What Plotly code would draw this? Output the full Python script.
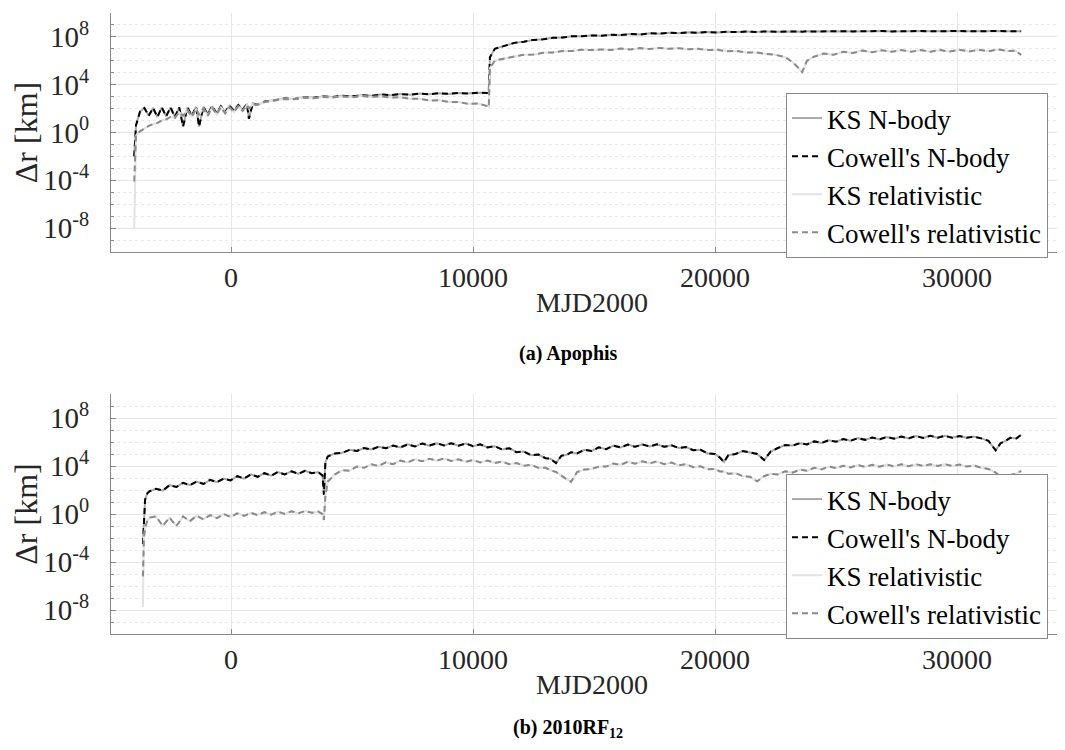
import numpy as np
import plotly.graph_objects as go

# ---------------- (a) Apophis ----------------
apophis_mjd = [
    -4000, -3960, -3925,
    -3760, -3580, -3400, -3220, -3040, -2860, -2680, -2500, -2320, -2140,
    -1980, -1800, -1620, -1440, -1320, -1140, -960, -780, -600, -420,
    -240, -60, 120, 300, 480, 660, 740, 900, 1080,
    1400, 1800, 2200, 2600, 3000, 3400, 3800, 4200, 4600, 5000,
    5400, 5800, 6200, 6600, 7000, 7400, 7800, 8200, 8600, 9000,
    9400, 9800, 10200, 10600,
    10650, 10700, 10900, 11300, 11700, 12100, 12500, 12900, 13300, 13700,
    14100, 14500,
    14900, 15300, 15700, 16100, 16500, 16900, 17300, 17700, 18100, 18500,
    18900, 19300, 19700, 20100, 20500, 20900, 21300, 21700, 22100, 22500,
    22900, 23200, 23400, 23600, 23800, 24100, 24500, 24900, 25300, 25700,
    26100, 26500, 26900, 27300, 27700, 28100, 28500, 28900, 29300, 29700,
    30100, 30500, 30900, 31300, 31700, 32100, 32400, 32650,
]
# log10 of delta r [km]
apophis_nbody_log = [
    -2.0, -0.5, 0.6,
    1.75, 2.05, 1.4, 2.05, 1.3, 2.1, 1.35, 2.1, 1.3, 2.1,
    0.5, 2.1, 1.4, 2.15, 0.5, 2.15, 1.5, 2.2, 1.6, 2.2,
    1.7, 2.25, 1.8, 2.3, 1.9, 2.4, 1.15, 2.45, 2.3,
    2.6, 2.7, 2.85, 2.8, 2.95, 2.9, 3.02, 2.97, 3.08, 3.02,
    3.12, 3.07, 3.18, 3.12, 3.22, 3.16, 3.26, 3.2, 3.29, 3.23,
    3.31, 3.26, 3.33, 3.3,
    3.3, 6.3, 7.0, 7.25, 7.5, 7.6, 7.75, 7.8, 7.92, 7.95,
    8.06, 8.05,
    8.12, 8.1, 8.18, 8.15, 8.24, 8.2, 8.3, 8.27, 8.35, 8.31,
    8.38, 8.34, 8.41, 8.37, 8.43, 8.4, 8.45, 8.42, 8.46, 8.43,
    8.47, 8.45, 8.46, 8.44, 8.47, 8.45, 8.48, 8.45, 8.48, 8.46,
    8.48, 8.46, 8.49, 8.46, 8.49, 8.46, 8.49, 8.47, 8.49, 8.47,
    8.49, 8.47, 8.49, 8.47, 8.49, 8.47, 8.48, 8.47,
]
apophis_ks_rel_start = -8.0
apophis_cowell_rel_start = -4.1
apophis_rel_log = [  # from the 2nd epoch on
    -1.5, -0.25,
    0.1, 0.35, 0.55, 0.7, 0.8, 1.0, 1.1, 1.3, 1.2, 1.7,
    1.4, 1.9, 1.3, 2.0, 1.5, 2.0, 1.4, 2.1, 1.5, 2.1,
    1.6, 2.1, 1.7, 2.2, 1.8, 2.3, 2.0, 2.35, 2.3,
    2.55, 2.65, 2.8, 2.78, 2.92, 2.86, 2.98, 2.92, 3.02, 2.95,
    3.05, 2.98, 3.02, 2.92, 2.95, 2.82, 2.82, 2.68, 2.7, 2.55,
    2.55, 2.4, 2.42, 2.2,
    2.1, 5.4, 6.0, 6.2, 6.35, 6.5, 6.52, 6.68, 6.7, 6.82,
    6.82, 6.92,
    6.9, 6.95, 6.9, 7.02, 6.95, 7.06, 6.98, 7.08, 7.0, 7.06,
    6.96, 7.0, 6.9, 6.92, 6.8, 6.82, 6.7, 6.7, 6.58, 6.5,
    6.3, 5.9, 5.5, 5.05, 6.0, 6.35, 6.6, 6.5, 6.75, 6.65,
    6.85, 6.72, 6.88, 6.75, 6.9, 6.76, 6.9, 6.76, 6.9, 6.77,
    6.92, 6.78, 6.93, 6.8, 6.95, 6.82, 6.85, 6.5,
]

# ---------------- (b) 2010RF12 ----------------
rf12_mjd = [
    -3640, -3600, -3550, -3450, -3360,
    -3100, -2820, -2540, -2260, -1980, -1700, -1420, -1140, -860, -580,
    -300, -20, 260, 540, 820, 1100, 1380, 1660, 1940, 2220,
    2500, 2780, 3060, 3340, 3600, 3780, 3840, 3900, 4000,
    4300, 4600, 4900, 5200, 5500, 5800, 6100, 6400, 6700, 7000,
    7300, 7600, 7900, 8200, 8500, 8800, 9100, 9400, 9700, 10000,
    10300, 10600, 10900, 11200, 11500, 11800, 12100, 12400, 12700, 13000,
    13200, 13430, 13650, 13900, 14050, 14300, 14600, 14900, 15200, 15500,
    15800, 16100, 16400, 16700, 17000, 17300, 17600, 17900, 18200, 18500,
    18800, 19100, 19400, 19700, 20000, 20200, 20370, 20550, 20850, 21150,
    21450, 21740, 22030, 22300, 22600, 22900, 23200, 23500, 23800, 24100,
    24400, 24700, 25000, 25300, 25600, 25900, 26200, 26500, 26800, 27100,
    27400, 27700, 28000, 28300, 28600, 28900, 29200, 29500, 29800, 30100,
    30400, 30700, 31000, 31300, 31600, 31800, 31970, 32200, 32450, 32650,
]
rf12_nbody_log = [
    -2.5, 0.0, 1.2, 1.75, 1.9,
    2.1, 1.95, 2.4, 2.25, 2.6, 2.4, 2.7, 2.5, 2.85, 2.65,
    2.95, 2.8, 3.15, 2.95, 3.3, 3.1, 3.4, 3.2, 3.5, 3.3,
    3.55, 3.35, 3.6, 3.4, 3.5, 3.2, 1.6, 4.3, 4.8,
    5.05, 5.1, 5.35, 5.25, 5.5, 5.38, 5.6, 5.48, 5.7, 5.55,
    5.8, 5.62, 5.88, 5.7, 5.9, 5.72, 5.9, 5.7, 5.88, 5.65,
    5.8, 5.55, 5.65, 5.38, 5.48, 5.15, 5.2, 4.9, 4.95, 4.65,
    4.6, 4.25, 4.85, 4.95, 5.15, 5.05, 5.35, 5.25, 5.55, 5.4,
    5.7, 5.55, 5.78, 5.6, 5.8, 5.62, 5.8, 5.6, 5.72, 5.5,
    5.58, 5.32, 5.35, 5.05, 5.0, 4.7, 4.33, 4.9, 5.0, 5.25,
    5.15, 5.0, 4.5, 5.2, 5.5, 5.75, 5.7, 5.9, 5.8, 6.05,
    5.92, 6.15, 6.02, 6.25, 6.1, 6.32, 6.18, 6.38, 6.22, 6.42,
    6.28, 6.45, 6.3, 6.5, 6.33, 6.52, 6.35, 6.52, 6.35, 6.5,
    6.35, 6.45, 6.3, 6.1, 5.3, 5.9, 6.05, 6.35, 6.3, 6.6,
]
rf12_ks_rel_start = -7.75
rf12_cowell_rel_start = -5.2
rf12_rel_log = [  # from the 2nd epoch on
    -2.0, -1.15, -0.5, -0.3,
    -0.2, -1.0, -0.3, -1.0, -0.2, -0.6, -0.15, -0.45, -0.1, -0.35,
    0.0, -0.25, 0.05, -0.15, 0.1, -0.1, 0.15, -0.05, 0.2, 0.0,
    0.22, 0.05, 0.25, 0.1, 0.2, 0.0, -0.5, 1.5, 2.7,
    3.3, 3.65, 3.6, 3.95, 3.85, 4.15, 4.0, 4.3, 4.15, 4.45,
    4.3, 4.55, 4.4, 4.6, 4.45, 4.62, 4.42, 4.55, 4.35, 4.5,
    4.3, 4.45, 4.25, 4.38, 4.15, 4.25, 4.02, 4.1, 3.85, 3.85,
    3.65, 3.5, 3.2, 2.9, 2.67, 3.5, 3.7, 3.75, 3.95, 3.95,
    4.2, 4.1, 4.35, 4.2, 4.4, 4.22, 4.38, 4.15, 4.28, 4.05,
    4.15, 3.9, 3.98, 3.72, 3.75, 3.55, 3.55, 3.35, 3.4, 3.15,
    3.1, 2.72, 3.15, 3.35, 3.3, 3.55, 3.45, 3.7, 3.6, 3.85,
    3.72, 3.95, 3.82, 4.02, 3.88, 4.08, 3.92, 4.1, 3.95, 4.12,
    3.97, 4.15, 3.98, 4.15, 4.0, 4.15, 4.0, 4.15, 4.0, 4.12,
    3.95, 4.05, 3.85, 3.75, 3.45, 3.1, 2.86, 3.25, 3.35, 3.6,
]

series_names = ["KS N-body", "Cowell's N-body", "KS relativistic", "Cowell's relativistic"]
y_tick_vals = [1e-8, 1e-4, 1, 1e4, 1e8]
y_tick_text = ["10<sup>-8</sup>", "10<sup>-4</sup>", "10<sup>0</sup>", "10<sup>4</sup>", "10<sup>8</sup>"]
y_minor_vals = [10.0 ** k for k in range(-10, 11)]
x_tick_vals = [0, 10000, 20000, 30000]
x_tick_text = ["0", "10000", "20000", "30000"]
captions = ["<b>(a) Apophis</b>", "<b>(b) 2010RF<sub>12</sub></b>"]

styles = [
    dict(color="#a8a8a8", dash="solid", width=2),
    dict(color="#000000", dash="6px,4px", width=2),
    dict(color="#e2e2e2", dash="solid", width=2),
    dict(color="#8a8a8a", dash="6px,4px", width=2),
]

FONT = "Liberation Serif, Times New Roman, serif"
fig = go.Figure()


def add_panel(mjd, nbody_log, rel_log, ks_start, cw_start, xaxis, yaxis, legend):
    nb = 10.0 ** np.array(nbody_log)
    ks_rel = 10.0 ** np.array([ks_start] + rel_log)
    cw_rel = 10.0 ** np.array([cw_start] + rel_log)
    ys = [nb, nb, ks_rel, cw_rel]
    for name, y, st in zip(series_names, ys, styles):
        fig.add_trace(go.Scatter(
            x=mjd, y=y, mode="lines", name=name, line=st,
            xaxis=xaxis, yaxis=yaxis, legend=legend,
        ))


add_panel(apophis_mjd, apophis_nbody_log, apophis_rel_log,
          apophis_ks_rel_start, apophis_cowell_rel_start, "x", "y", "legend")
add_panel(rf12_mjd, rf12_nbody_log, rf12_rel_log,
          rf12_ks_rel_start, rf12_cowell_rel_start, "x2", "y2", "legend2")

W, H = 1065, 750
L = 103
pw = W - L


def py(px):
    return 1 - px / H


axis_common_x = dict(
    range=[-4959, 34793], tickvals=x_tick_vals, ticktext=x_tick_text,
    ticks="inside", ticklen=5,
    tickcolor="#8a8a8a", showline=True, linecolor="#8a8a8a", linewidth=1,
    showgrid=True, gridcolor="#e6e6e6", gridwidth=1, zeroline=False,
    tickfont=dict(family=FONT, size=28, color="#262626"),
    title=dict(text="MJD2000", font=dict(family=FONT, size=28, color="#262626"), standoff=0),
)
axis_common_y = dict(
    type="log", range=[-10, 10], tickvals=y_tick_vals, ticktext=y_tick_text,
    ticks="inside", ticklen=5, tickcolor="#8a8a8a", showline=True,
    linecolor="#8a8a8a", linewidth=1, showgrid=True, gridcolor="#e6e6e6",
    zeroline=False, ticklabelstandoff=15,
    tickfont=dict(family=FONT, size=29, color="#262626"),
    minor=dict(tickvals=y_minor_vals, ticks="inside", ticklen=3, tickcolor="#8a8a8a",
               showgrid=True, gridcolor="#e8e8e8", griddash="dot"),
    title=dict(text="Δr [km]", font=dict(family=FONT, size=32, color="#262626"), standoff=0),
)

legend_common = dict(
    font=dict(family=FONT, size=27, color="#000000"),
    bgcolor="#ffffff", bordercolor="#8a8a8a", borderwidth=1,
    xanchor="left", yanchor="top", x=(778 - L) / pw, itemwidth=30,
    tracegroupgap=0,
)

fig.update_layout(
    width=W, height=H,
    font=dict(family=FONT, size=27, color="#262626"),
    margin=dict(l=L, r=0, t=0, b=0),
    plot_bgcolor="#ffffff", paper_bgcolor="#ffffff",
    xaxis=dict(domain=[0, 1], anchor="y", **axis_common_x),
    yaxis=dict(domain=[py(244), py(5)], anchor="x", **axis_common_y),
    xaxis2=dict(domain=[0, 1], anchor="y2", **axis_common_x),
    yaxis2=dict(domain=[py(626), py(386)], anchor="x2", **axis_common_y),
    legend=dict(y=py(85), **legend_common),
    legend2=dict(y=py(466), **legend_common),
    annotations=[
        dict(text=captions[0], xref="paper", yref="paper", x=(560 - L) / pw, y=py(345),
             showarrow=False, xanchor="center", yanchor="middle",
             font=dict(family=FONT, size=20, color="#000000")),
        dict(text=captions[1], xref="paper", yref="paper", x=(560 - L) / pw, y=py(720),
             showarrow=False, xanchor="center", yanchor="middle",
             font=dict(family=FONT, size=20, color="#000000")),
    ],
)

fig.write_html("out.html")
